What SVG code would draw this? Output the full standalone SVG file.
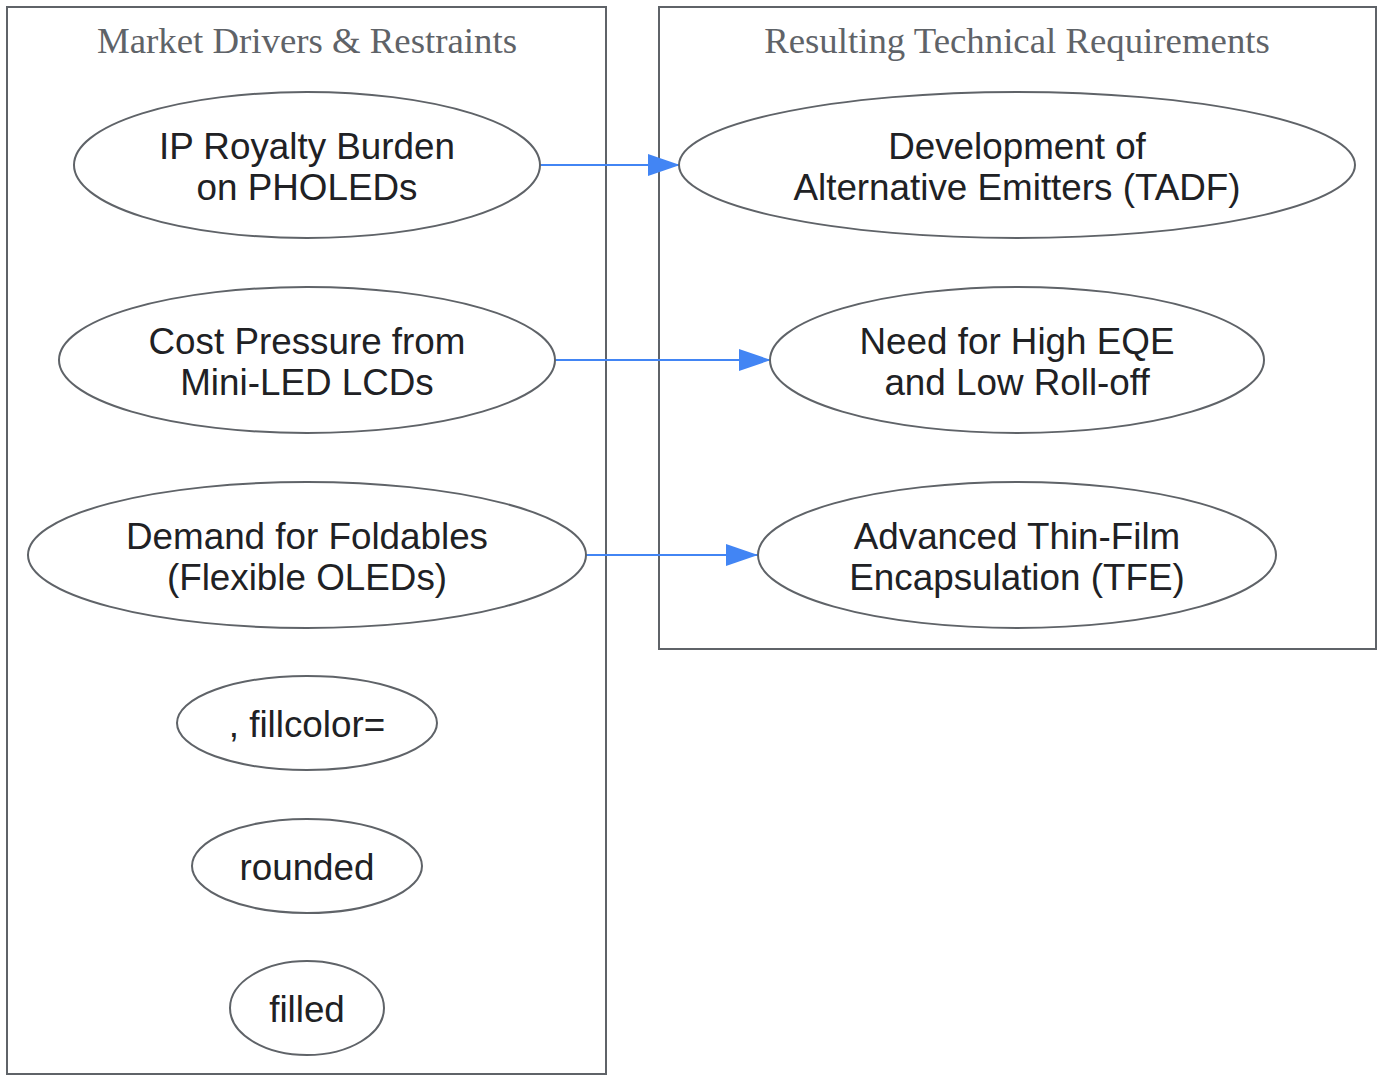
<svg xmlns="http://www.w3.org/2000/svg" width="1384" height="1076" viewBox="0 0 1384 1076">
<style>
.cl{fill:none;stroke:#5f6368;stroke-width:2}
.ct{font-family:"Liberation Serif",serif;font-size:36.8px;fill:#5f6368;text-anchor:middle}
.n ellipse{fill:none;stroke:#5f6368;stroke-width:2}
.n text{font-family:"Liberation Sans",Arial,sans-serif;font-size:36.8px;fill:#202124;text-anchor:middle}
.e{stroke:#4285f4;stroke-width:2;fill:none}
</style>
<defs>
<marker id="ah" markerUnits="userSpaceOnUse" markerWidth="32" markerHeight="24" refX="32" refY="12" orient="auto">
<path d="M0,1 L32,12 L0,23 Z" fill="#4285f4"/>
</marker>
</defs>
<rect width="1384" height="1076" fill="#fff"/>
<g id="cluster_drivers">
<rect class="cl" x="7" y="7" width="599" height="1067"/>
<text class="ct" x="307" y="53">Market Drivers &amp; Restraints</text>
</g>
<g id="cluster_requirements">
<rect class="cl" x="659" y="7" width="717" height="642"/>
<text class="ct" x="1017" y="53">Resulting Technical Requirements</text>
</g>
<g id="edges">
<line class="e" x1="540" y1="165" x2="680" y2="165" marker-end="url(#ah)"/>
<line class="e" x1="555" y1="360" x2="771" y2="360" marker-end="url(#ah)"/>
<line class="e" x1="586" y1="555" x2="758" y2="555" marker-end="url(#ah)"/>
</g>
<g id="ip_royalty" class="n">
<ellipse cx="307" cy="165" rx="233" ry="73"/>
<text x="307" y="159">IP Royalty Burden</text>
<text x="307" y="200">on PHOLEDs</text>
</g>
<g id="cost_pressure" class="n">
<ellipse cx="307" cy="360" rx="248" ry="73"/>
<text x="307" y="354">Cost Pressure from</text>
<text x="307" y="395">Mini-LED LCDs</text>
</g>
<g id="foldables" class="n">
<ellipse cx="307" cy="555" rx="279" ry="73"/>
<text x="307" y="549">Demand for Foldables</text>
<text x="307" y="590">(Flexible OLEDs)</text>
</g>
<g id="fillcolor" class="n">
<ellipse cx="307" cy="723" rx="130" ry="47"/>
<text x="307" y="737">, fillcolor=</text>
</g>
<g id="rounded" class="n">
<ellipse cx="307" cy="866" rx="115" ry="47"/>
<text x="307" y="880">rounded</text>
</g>
<g id="filled" class="n">
<ellipse cx="307" cy="1008" rx="77" ry="47"/>
<text x="307" y="1022">filled</text>
</g>
<g id="tadf" class="n">
<ellipse cx="1017" cy="165" rx="338" ry="73"/>
<text x="1017" y="159">Development of</text>
<text x="1017" y="200">Alternative Emitters (TADF)</text>
</g>
<g id="high_eqe" class="n">
<ellipse cx="1017" cy="360" rx="247" ry="73"/>
<text x="1017" y="354">Need for High EQE</text>
<text x="1017" y="395">and Low Roll-off</text>
</g>
<g id="tfe" class="n">
<ellipse cx="1017" cy="555" rx="259" ry="73"/>
<text x="1017" y="549">Advanced Thin-Film</text>
<text x="1017" y="590">Encapsulation (TFE)</text>
</g>
</svg>
